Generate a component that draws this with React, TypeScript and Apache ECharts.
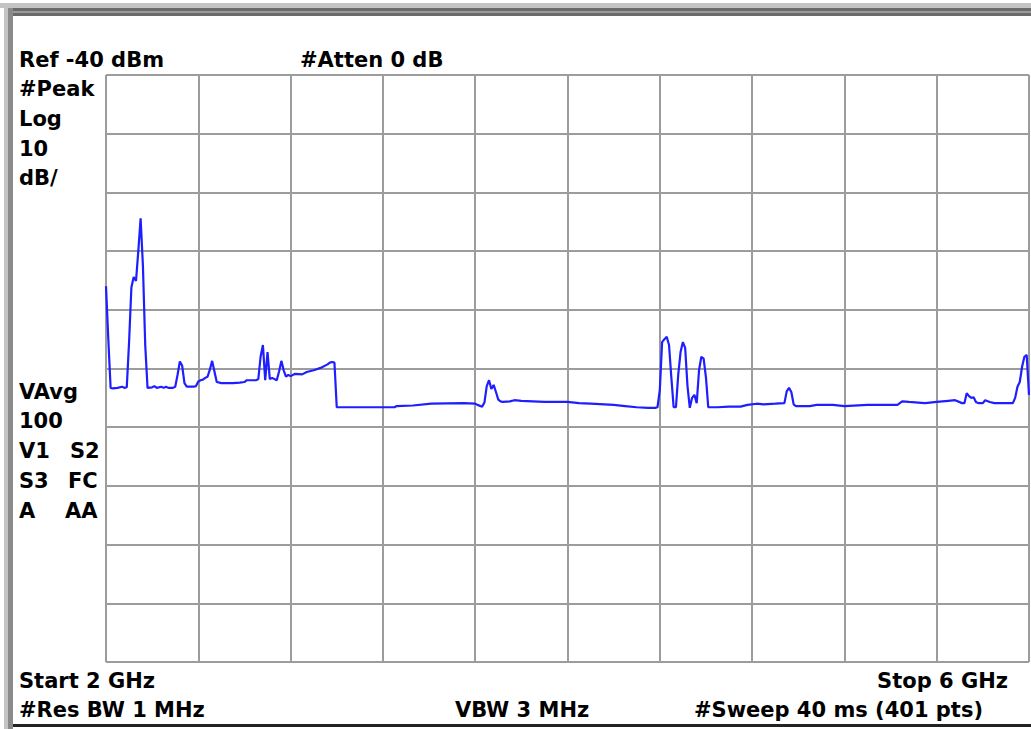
import React, { useEffect, useRef } from "react";
import * as echarts from "echarts";

const freqMHz = [
  2000, 2010, 2020, 2030, 2050, 2070, 2080, 2090, 2100, 2110, 2120, 2130, 2140, 2150, 2160, 2170, 2180,
  2200, 2210, 2220, 2240, 2250, 2260, 2270, 2290, 2300, 2310, 2320, 2330, 2340, 2350, 2380, 2390,
  2400, 2410, 2420, 2430, 2440, 2450, 2460, 2470, 2480, 2500, 2550, 2580, 2600, 2610, 2650, 2660,
  2670, 2680, 2690, 2700, 2710, 2720, 2740, 2750, 2760, 2770, 2780, 2790, 2800, 2820, 2850, 2870,
  2900, 2930, 2960, 2970, 2980, 2990, 3000, 3250, 3260, 3330, 3410, 3550, 3600, 3610, 3630, 3640,
  3650, 3660, 3670, 3680, 3690, 3700, 3710, 3720, 3750, 3770, 3800, 3850, 3900, 4000, 4050, 4100,
  4200, 4250, 4300, 4350, 4380, 4390, 4400, 4410, 4420, 4430, 4440, 4450, 4460, 4470, 4480, 4490,
  4500, 4510, 4520, 4530, 4540, 4550, 4560, 4570, 4580, 4590, 4600, 4610, 4650, 4700, 4750, 4780,
  4820, 4850, 4900, 4940, 4950, 4960, 4970, 4980, 4990, 5050, 5080, 5150, 5200, 5300, 5400, 5430,
  5450, 5480, 5520, 5550, 5600, 5650, 5680, 5710, 5720, 5730, 5740, 5750, 5760, 5770, 5780, 5800,
  5810, 5830, 5850, 5880, 5900, 5930, 5940, 5950, 5960, 5970, 5980, 5990, 6000,
];
const levelDbm = [
  -76, -85, -93.3, -93.4, -93.3, -93.1, -93.3, -93.2, -85.5, -76.2, -74.4, -75.1, -70.0, -64.4, -72.5, -86.0, -93.3,
  -93.2, -93.0, -93.3, -93.1, -93.3, -93.1, -93.3, -93.3, -93.1, -91.1, -88.8, -89.5, -92.5, -93.1, -93.1, -93.0,
  -92.2, -92.0, -91.9, -91.6, -91.4, -90.2, -88.7, -90.5, -92.3, -92.5, -92.5, -92.4, -92.3, -92.0, -92.0, -91.8,
  -88.0, -86.0, -92.0, -87.2, -91.8, -91.6, -92.0, -90.5, -88.7, -90.3, -91.4, -91.1, -91.3, -90.9, -91.0, -90.6,
  -90.3, -89.9, -89.3, -89.0, -88.9, -89.0, -96.6, -96.6, -96.4, -96.3, -96.0, -95.9, -96.0, -96.2, -96.5, -95.8,
  -93.0, -92.0, -93.5, -92.8, -94.0, -95.3, -95.6, -95.7, -95.6, -95.4, -95.5, -95.6, -95.7, -95.7, -95.9, -96.0,
  -96.2, -96.4, -96.6, -96.7, -96.7, -96.6, -93.7, -85.5, -85.0, -84.6, -86.0, -91.5, -96.6, -96.6, -91.0, -87.2,
  -85.5, -86.5, -93.0, -96.7, -95.0, -94.5, -95.9, -90.3, -88.0, -88.3, -91.5, -96.6, -96.6, -96.5, -96.5, -96.2,
  -96.0, -96.1, -96.0, -95.9, -93.9, -93.3, -94.0, -96.1, -96.4, -96.4, -96.2, -96.2, -96.4, -96.2, -96.2, -96.2,
  -95.6, -95.7, -95.8, -95.9, -95.7, -95.5, -95.4, -95.9, -95.9, -94.2, -94.7, -95.0, -94.9, -95.7, -95.9, -95.9,
  -95.4, -95.7, -95.9, -95.9, -95.9, -95.9, -95.0, -93.1, -92.3, -89.7, -88.0, -87.7, -94.5,
];

const startMHz = 2000;
const stopMHz = 6000;
const refLevel = -40;
const bottomLevel = -140;
const freqDiv = 400;
const dbDiv = 10;

const FONT = 'bold 21px "DejaVu Sans"';

function txt(text: string, x: number, y: number, align: string = "left") {
  return {
    type: "text",
    x,
    y,
    silent: true,
    style: {
      text,
      font: FONT,
      fill: "#000",
      textAlign: align,
      textVerticalAlign: "middle",
      verticalAlign: "middle",
    },
  };
}

export default function App() {
  const ref = useRef<HTMLDivElement>(null);
  useEffect(() => {
    if (!ref.current) return;
    const chart = echarts.init(ref.current, undefined, { renderer: "svg" });
    const data = freqMHz.map((f, i) => [f, levelDbm[i]]);
    chart.setOption({
      animation: false,
      backgroundColor: "#ffffff",
      grid: { left: 106, top: 75, right: 2, bottom: 67, show: false },
      xAxis: {
        type: "value",
        min: startMHz,
        max: stopMHz,
        interval: freqDiv,
        axisLine: { show: false },
        axisTick: { show: false },
        axisLabel: { show: false },
        splitLine: { show: true, showMinLine: true, showMaxLine: true, lineStyle: { color: "#9c9c9c", width: 2 } },
      },
      yAxis: {
        type: "value",
        min: bottomLevel,
        max: refLevel,
        interval: dbDiv,
        axisLine: { show: false },
        axisTick: { show: false },
        axisLabel: { show: false },
        splitLine: { show: true, showMinLine: true, showMaxLine: true, lineStyle: { color: "#9c9c9c", width: 2 } },
      },
      series: [
        {
          type: "line",
          data,
          showSymbol: false,
          symbol: "none",
          lineStyle: { color: "#1e1eff", width: 2.2 },
          z: 5,
        },
      ],
      graphic: [
        { type: "rect", silent: true, shape: { x: 0, y: 3, width: 1031, height: 5 }, style: { fill: "#c4c4c4" } },
        { type: "rect", silent: true, shape: { x: 8, y: 8, width: 1023, height: 8 }, style: { fill: "#6a6a6a" } },
        { type: "rect", silent: true, shape: { x: 8, y: 11, width: 1023, height: 2 }, style: { fill: "#9a9a9a" } },
        { type: "rect", silent: true, shape: { x: 4, y: 3, width: 4, height: 726 }, style: { fill: "#c4c4c4" } },
        { type: "rect", silent: true, shape: { x: 8, y: 8, width: 5, height: 721 }, style: { fill: "#8a8a8a" } },
        { type: "rect", silent: true, shape: { x: 13, y: 724, width: 1018, height: 3 }, style: { fill: "#222" } },
        txt("Ref -40 dBm", 19, 60),
        txt("#Atten 0 dB", 300, 60),
        txt("#Peak", 19, 89),
        txt("Log", 19, 119),
        txt("10", 19, 149),
        txt("dB/", 19, 178),
        txt("VAvg", 19, 392),
        txt("100", 19, 421),
        txt("V1", 19, 451),
        txt("S2", 70, 451),
        txt("S3", 19, 481),
        txt("FC", 68, 481),
        txt("A", 19, 511),
        txt("AA", 65, 511),
        txt("Start 2 GHz", 19, 681),
        txt("Stop 6 GHz", 1008, 681, "right"),
        txt("#Res BW 1 MHz", 19, 710),
        txt("VBW 3 MHz", 455, 710),
        txt("#Sweep 40 ms (401 pts)", 983, 710, "right"),
      ],
    });
    return () => chart.dispose();
  }, []);
  return (
    <div
      ref={ref}
      style={{ position: "fixed", left: 0, top: 0, width: 1031, height: 729, background: "#fff" }}
    />
  );
}
